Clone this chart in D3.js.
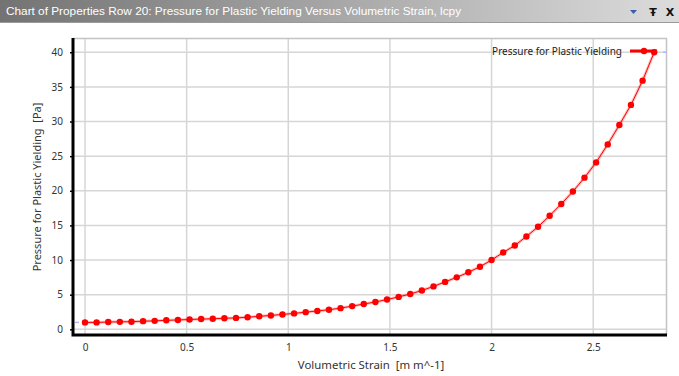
<!DOCTYPE html>
<html>
<head>
<meta charset="utf-8">
<script src="https://cdn.jsdelivr.net/npm/d3@7"></script>
<style>
  body { margin: 0; background: #fff; }
  svg { display: block; }
  text { white-space: pre; }
  .tick text { font-family: "Noto Sans", sans-serif; font-size: 10px; fill: #333; }
</style>
</head>
<body>
<div id="chart"></div>
<script>
const chartTitle = "Chart of Properties Row 20: Pressure for Plastic Yielding Versus Volumetric Strain, lcpy";
const seriesName = "Pressure for Plastic Yielding";
const xLabel = "Volumetric Strain  [m m^-1]";
const yLabel = "Pressure for Plastic Yielding  [Pa]";

const strain = [0, 0.0571, 0.1143, 0.1714, 0.2286, 0.2857, 0.3429, 0.4, 0.4571, 0.5143,
  0.5714, 0.6286, 0.6857, 0.7429, 0.8, 0.8571, 0.9143, 0.9714, 1.0286, 1.0857,
  1.1429, 1.2, 1.2571, 1.3143, 1.3714, 1.4286, 1.4857, 1.5429, 1.6, 1.6571,
  1.7143, 1.7714, 1.8286, 1.8857, 1.9429, 2.0, 2.0571, 2.1143, 2.1714, 2.2286,
  2.2857, 2.3429, 2.4, 2.4571, 2.5143, 2.5714, 2.6286, 2.6857, 2.7429, 2.8];
const pressure = [1.0, 1.0, 1.05, 1.08, 1.1, 1.18, 1.22, 1.3, 1.35, 1.42,
  1.48, 1.52, 1.6, 1.65, 1.75, 1.88, 2.0, 2.15, 2.3, 2.48,
  2.65, 2.83, 3.06, 3.35, 3.65, 3.95, 4.3, 4.68, 5.1, 5.6,
  6.2, 6.85, 7.5, 8.23, 9.04, 10.0, 11.1, 12.1, 13.4, 14.8,
  16.4, 18.1, 19.9, 21.9, 24.1, 26.7, 29.5, 32.4, 35.9, 40.0];

const xTicks = [0, 0.5, 1, 1.5, 2, 2.5];
const yTicks = [0, 5, 10, 15, 20, 25, 30, 35, 40];

const width = 679, height = 376;
const plot = { left: 73, right: 667, top: 38, bottom: 335 };

const svg = d3.select("#chart").append("svg")
    .attr("width", width)
    .attr("height", height);

// --- title bar ---
const grad = svg.append("defs").append("linearGradient")
    .attr("id", "barGrad").attr("x1", "0%").attr("x2", "100%");
grad.append("stop").attr("offset", "0%").attr("stop-color", "#737373");
grad.append("stop").attr("offset", "100%").attr("stop-color", "#dcdcdc");

svg.append("rect")
    .attr("x", 0).attr("y", 0)
    .attr("width", width).attr("height", 22)
    .attr("fill", "url(#barGrad)");
svg.append("line")
    .attr("x1", 0).attr("x2", width).attr("y1", 22.5).attr("y2", 22.5)
    .attr("stroke", "#9a9a9a");

svg.append("text")
    .attr("x", 6).attr("y", 15)
    .attr("font-family", "Liberation Sans, Arial, sans-serif")
    .attr("font-size", 11.8)
    .attr("fill", "#fff")
    .text(chartTitle);

// window buttons
svg.append("path")
    .attr("d", "M630,10 L637,10 L633.5,14 Z")
    .attr("fill", "#3a5fa8");
svg.append("text")
    .attr("x", 653).attr("y", 16).attr("text-anchor", "middle")
    .attr("font-family", "DejaVu Sans, sans-serif").attr("font-size", 11)
    .attr("font-weight", "bold").attr("fill", "#111")
    .text("Ŧ");
svg.append("text")
    .attr("x", 670).attr("y", 16).attr("text-anchor", "middle")
    .attr("font-family", "DejaVu Sans, sans-serif").attr("font-size", 11)
    .attr("font-weight", "bold").attr("fill", "#111")
    .text("X");

// --- scales ---
const x = d3.scaleLinear().domain([-0.059, 2.863]).range([plot.left, plot.right]);
const y = d3.scaleLinear().domain([-0.82, 42.06]).range([plot.bottom, plot.top]);

// --- grid ---
const grid = svg.append("g").attr("stroke", "#d6d6d6").attr("stroke-width", 1.5);
grid.selectAll(".gx").data(xTicks).join("line")
    .attr("x1", d => x(d)).attr("x2", d => x(d))
    .attr("y1", plot.top).attr("y2", plot.bottom);
grid.selectAll(".gy").data(yTicks).join("line")
    .attr("x1", plot.left).attr("x2", plot.right)
    .attr("y1", d => y(d)).attr("y2", d => y(d));

// plot border top / right
svg.append("path")
    .attr("d", `M${plot.left},${plot.top + 0.5} H${plot.right - 0.5} V${plot.bottom}`)
    .attr("fill", "none").attr("stroke", "#c4c4c4").attr("stroke-width", 1.5);

// --- axes ---
const yAxis = svg.append("g")
    .attr("transform", `translate(${plot.left},0)`)
    .call(d3.axisLeft(y).tickValues(yTicks).tickSize(3).tickPadding(7).tickFormat(d3.format("d")));
yAxis.select(".domain").remove();
yAxis.selectAll(".tick line").attr("stroke", "#000").attr("stroke-width", 1.5);

const xAxis = svg.append("g")
    .attr("transform", `translate(0,${plot.bottom})`)
    .call(d3.axisBottom(x).tickValues(xTicks).tickSize(0).tickPadding(9).tickFormat(d => d));
xAxis.select(".domain").remove();

svg.append("path")
    .attr("d", `M${plot.left},${plot.top} V${plot.bottom} H${plot.right}`)
    .attr("fill", "none").attr("stroke", "#000").attr("stroke-width", 3);

// axis range markers
svg.append("line")
    .attr("x1", plot.left + 2).attr("x2", plot.left + 6)
    .attr("y1", y(pressure[0])).attr("y2", y(pressure[0]))
    .attr("stroke", "#b4b4ff").attr("stroke-width", 1.5);
svg.append("line")
    .attr("x1", plot.right - 4).attr("x2", plot.right)
    .attr("y1", y(pressure[pressure.length - 1])).attr("y2", y(pressure[pressure.length - 1]))
    .attr("stroke", "#b4b4ff").attr("stroke-width", 1.5);

// axis titles
svg.append("text")
    .attr("x", 371).attr("y", 369)
    .attr("text-anchor", "middle")
    .attr("font-family", "Noto Sans, sans-serif").attr("font-size", 11.4)
    .attr("fill", "#333")
    .text(xLabel);

svg.append("text")
    .attr("transform", `translate(41,${187}) rotate(-90)`)
    .attr("text-anchor", "middle")
    .attr("font-family", "Noto Sans, sans-serif").attr("font-size", 11)
    .attr("fill", "#333")
    .text(yLabel);

// --- series ---
const data = strain.map((s, i) => ({ s: s, p: pressure[i] }));
const line = d3.line().x(d => x(d.s)).y(d => y(d.p));

svg.append("path")
    .datum(data)
    .attr("d", line)
    .attr("fill", "none")
    .attr("stroke", "#ff0000").attr("stroke-opacity", 0.25).attr("stroke-width", 3);
svg.append("path")
    .datum(data)
    .attr("d", line)
    .attr("fill", "none")
    .attr("stroke", "#ff0000").attr("stroke-width", 1);

svg.append("g").selectAll("circle")
    .data(data)
    .join("circle")
    .attr("cx", d => x(d.s))
    .attr("cy", d => y(d.p))
    .attr("r", 3.2)
    .attr("fill", "#ff0000");

// --- legend ---
const legend = svg.append("g").attr("transform", "translate(0,51)");
legend.append("text")
    .attr("x", 622).attr("y", 3.5)
    .attr("text-anchor", "end")
    .attr("font-family", "Noto Sans, sans-serif").attr("font-size", 10)
    .attr("fill", "#222")
    .text(seriesName);
legend.append("line")
    .attr("x1", 630).attr("x2", 657).attr("y1", 0).attr("y2", 0)
    .attr("stroke", "#ff0000").attr("stroke-width", 3);
legend.append("circle")
    .attr("cx", 644).attr("cy", 0).attr("r", 3.2).attr("fill", "#ff0000");
</script>
</body>
</html>
